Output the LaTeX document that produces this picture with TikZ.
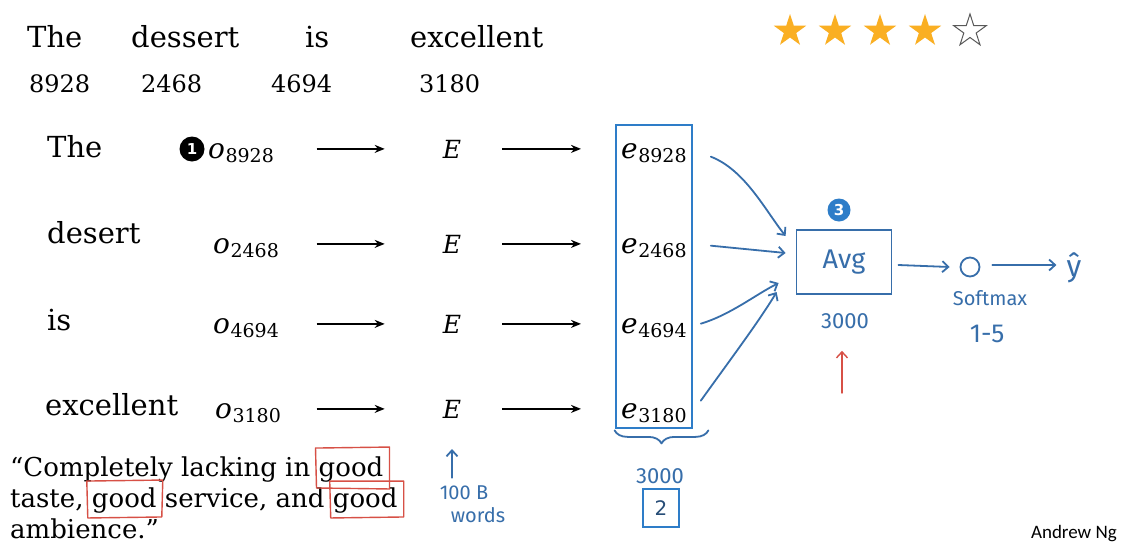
\documentclass[tikz,border=0pt]{standalone}
\usepackage{fontspec}
\setmainfont{DejaVu Serif}
\newfontfamily\hand{Fira Sans}
\newfontfamily\ngfont{Carlito}
\newfontfamily\symfont{DejaVu Sans}
\usetikzlibrary{arrows.meta,shapes.geometric,decorations.pathreplacing,calc}
\definecolor{boxblue}{RGB}{46,125,200}
\definecolor{penblue}{RGB}{55,110,170}
\definecolor{penred}{RGB}{215,80,70}
\definecolor{staror}{RGB}{250,175,35}
\newcommand\symsub[2]{\textit{#1}\kern0.5pt\raisebox{-4pt}{\fontsize{19}{19}\selectfont #2}}
\begin{document}
\begin{tikzpicture}[x=1pt,y=-1pt,
  word/.style={font=\fontsize{29}{29}\selectfont, anchor=base west, inner sep=0pt},
  num/.style={font=\fontsize{24}{24}\selectfont, anchor=base west, inner sep=0pt},
  quote/.style={font=\fontsize{26}{26}\selectfont, anchor=base west, inner sep=0pt},
  symb/.style={font=\fontsize{28}{28}\selectfont, anchor=base west, inner sep=0pt},
  bigE/.style={font=\fontsize{25}{25}\selectfont, anchor=base, inner sep=0pt},
  blk/.style={-{Stealth[length=10pt,width=8pt]}, line width=2pt},
  pen/.style={penblue, line width=1.8pt, line cap=round, line join=round},
  penarrow/.style={pen, -{Straight Barb[length=6pt,width=11pt]}},
  redpen/.style={penred, line width=1.4pt, line cap=round, line join=round},
  hw/.style={text=penblue, font=\hand\fontsize{22}{22}\selectfont, inner sep=0pt},
  starf/.style={star, star points=5, star point ratio=2.618, minimum size=34pt, inner sep=0pt, fill=staror},
  stare/.style={star, star points=5, star point ratio=2.618, minimum size=34pt, inner sep=0pt, draw=gray!70!black, line width=1pt, fill=white},
  numdot/.style={circle, inner sep=0pt, minimum size=#1, text=white},
]
\useasboundingbox (0,0) rectangle (1122,544);
\fill[white] (0,0) rectangle (1122,544);

% top sentence
\node[word] (tThe) at (27,47) {The};
\node[word] (tdessert) at (131,47) {dessert};
\node[word] (tis) at (305,47) {is};
\node[word] (texc) at (410,47) {excellent};
\node[num] (n1) at (29,92) {8928};
\node[num] (n2) at (141,92) {2468};
\node[num] (n3) at (271,92) {4694};
\node[num] (n4) at (419,92) {3180};

% stars
\node[starf] (s1) at (790,31) {};
\node[starf] (s2) at (835,31) {};
\node[starf] (s3) at (880,31) {};
\node[starf] (s4) at (925,31) {};
\node[stare] (s5) at (970,31) {};

% rows
\node[word] (w1) at (47,157) {The};
\node[word] (w2) at (47,243) {desert};
\node[word] (w3) at (47,330) {is};
\node[word] (w4) at (45,415) {excellent};

\node[numdot=25pt, fill=black, font=\symfont\bfseries\fontsize{15}{15}\selectfont] (one) at (192,149) {1};

\node[symb] (o1) at (208,158) {\symsub{o}{8928}};
\node[symb] (o2) at (213,253) {\symsub{o}{2468}};
\node[symb] (o3) at (213,333) {\symsub{o}{4694}};
\node[symb] (o4) at (215,418) {\symsub{o}{3180}};

\node[bigE] (E1) at (452,158) {\textit{E}};
\node[bigE] (E2) at (452,253) {\textit{E}};
\node[bigE] (E3) at (452,333) {\textit{E}};
\node[bigE] (E4) at (452,418) {\textit{E}};

\node[symb] (e1) at (621,158) {\symsub{e}{8928}};
\node[symb] (e2) at (621,253) {\symsub{e}{2468}};
\node[symb] (e3) at (621,333) {\symsub{e}{4694}};
\node[symb] (e4) at (621,418) {\symsub{e}{3180}};

\foreach \i in {1,2,3,4}{
  \draw[blk] ($(E\i.west)+(-126,0)$) -- ($(E\i.west)+(-58,0)$);
  \draw[blk] ($(E\i.east)+(41,0)$) -- ($(e\i.west |- E\i.east)+(-40,0)$);
}

% embedding box
\node[draw=boxblue, line width=2.8pt, minimum width=76pt, minimum height=303pt, inner sep=0pt] (ebox) at (654,276.5) {};

% average block
\node[draw=penblue, line width=1.8pt, minimum width=95pt, minimum height=64pt, inner sep=0pt,
      text=penblue, font=\hand\fontsize{27}{27}\selectfont] (avg) at (844,262) {Avg};
\node[numdot=23pt, fill=boxblue, font=\symfont\bfseries\fontsize{15}{15}\selectfont] (three) at (839,210) {3};
\node[hw] (avgdim) at (845,321) {3000};
\coordinate (redtail) at (842,393);
\draw[redpen, -{Straight Barb[length=6pt,width=11pt]}] (redtail) -- ($(avgdim.south)+(-3,22)$);

\draw[penarrow] ($(e1.east)+(24,4)$) .. controls (745,170) and (765,210) .. ($(avg.west)+(-10,-26)$);
\draw[penarrow] ($(e2.east)+(24,-2)$) -- ($(avg.west)+(-10,-9)$);
\draw[penarrow] ($(e3.east)+(14,-4)$) .. controls (730,315) and (755,295) .. ($(avg.west)+(-17,21)$);
\draw[penarrow] ($(e4.east)+(14,-12)$) .. controls (730,360) and (760,320) .. ($(avg.west)+(-19,30)$);

\node[draw=penblue, line width=1.8pt, circle, minimum size=19pt, inner sep=0pt] (soft) at (970,267) {};
\node[hw, font=\hand\fontsize{30}{30}\selectfont] (yhat) at (1074,268) {ŷ};
\node[hw, font=\hand\fontsize{20}{20}\selectfont] (softlbl) at (990,298) {Softmax};
\node[hw, font=\hand\fontsize{26}{26}\selectfont] (range) at (987,334) {1-5};
\draw[penarrow] ($(avg.east)+(6,3)$) -- ($(soft.west)+(-10,0)$);
\draw[penarrow] ($(soft.east)+(12,-2)$) -- ($(yhat.west)+(-10,-3)$);

% brace
\draw[pen, decorate, decoration={brace, mirror, amplitude=13pt}] ($(ebox.south west)+(0,1)$) -- ($(ebox.south east)+(15,1)$);
\node[hw] (edim) at (660,476) {3000};
\node[draw=boxblue, line width=1.6pt, minimum width=36pt, minimum height=38pt, inner sep=0pt,
      text=penblue!70!black, font=\symfont\fontsize{20}{20}\selectfont] (two) at (661,508) {2};

% quote
\node[quote] (q1) at (10,476) {“Completely lacking in};
\node[quote] (g1) at ($(q1.base east)+(8,0)$) {good};
\node[quote] (q2) at (10,507) {taste,};
\node[quote] (g2) at ($(q2.base east)+(8,0)$) {good};
\node[quote] (q3) at ($(g2.base east)+(8,0)$) {service, and};
\node[quote] (g3) at ($(q3.base east)+(8,0)$) {good};
\node[quote] (q4) at (10,538) {ambience.”};

\draw[redpen] ($(g1.north west)+(-3,-8)$) -- ($(g1.north east)+(6,-9)$) -- ($(g1.south east)+(6,7)$) -- ($(g1.south west)+(-2,6)$) -- cycle;
\draw[redpen] ($(g2.north west)+(-5,-6)$) -- ($(g2.north east)+(6,-7)$) -- ($(g2.south east)+(5,4)$) -- ($(g2.south west)+(-4,5)$) -- cycle;
\draw[redpen] ($(g3.north west)+(-3,-6)$) -- ($(g3.north east)+(6,-6)$) -- ($(g3.south east)+(6,4)$) -- ($(g3.south west)+(-2,5)$) -- cycle;

% 100 B words
\node[hw, font=\hand\fontsize{20}{20}\selectfont] (hundred) at (464,493) {100 B};
\node[hw, font=\hand\fontsize{20}{20}\selectfont] (words) at (478,515) {words};
\coordinate (uptip) at (452,449);
\draw[penarrow] ($(hundred.north)+(-12,-8)$) -- (uptip);

\node[font=\ngfont\fontsize{19}{19}\selectfont, anchor=base east, inner sep=0pt] (author) at (1117,538) {Andrew Ng};
\end{tikzpicture}
\end{document}
